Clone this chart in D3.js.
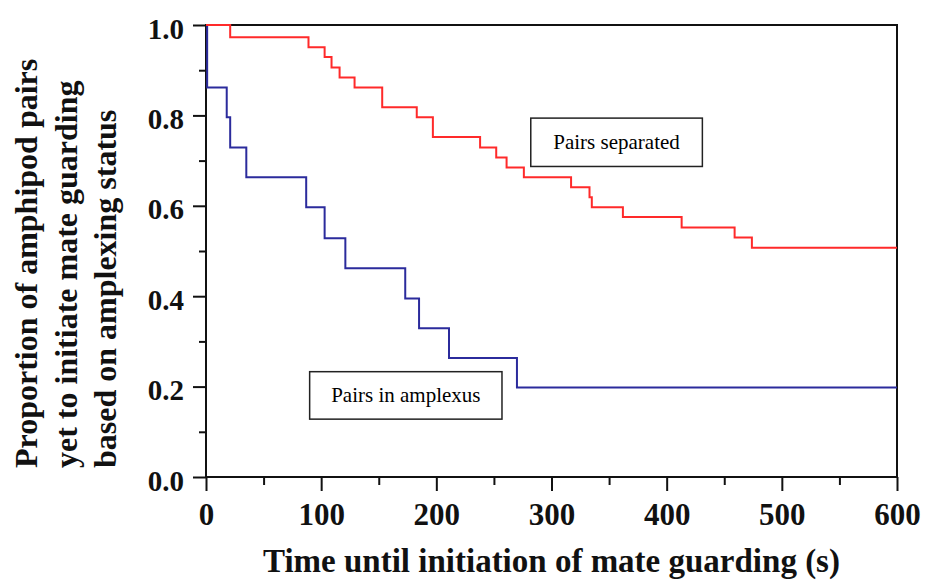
<!DOCTYPE html>
<html>
<head>
<meta charset="utf-8">
<script src="https://cdn.jsdelivr.net/npm/d3@7"></script>
<style>
  body { margin: 0; background: #fff; }
  svg { display: block; }
  text { font-family: "Liberation Serif", "Times New Roman", serif; }
</style>
</head>
<body>
<div class="graph"></div>
<script>
/*---------- DATA ----------*/

// pairs separated: step times (s) and proportion left after each step
const sepTimes = [21, 89, 103, 109, 116, 129, 153, 183, 197, 238, 252, 261, 276, 317, 333, 335, 362, 413, 459, 474];
const sepProps = [0.973, 0.951, 0.929, 0.906, 0.884, 0.862, 0.818, 0.796, 0.752, 0.729, 0.707, 0.685, 0.663, 0.641, 0.619, 0.597, 0.575, 0.552, 0.530, 0.507];

// pairs in amplexus
const ampTimes = [1, 18, 21, 35, 87, 103, 121, 173, 185, 211, 270];
const ampProps = [0.862, 0.796, 0.729, 0.663, 0.597, 0.528, 0.462, 0.395, 0.329, 0.263, 0.198];

const xTicks = [0, 100, 200, 300, 400, 500, 600];
const xMinor = [50, 150, 250, 350, 450, 550];
const yTicks = [0, 0.2, 0.4, 0.6, 0.8, 1.0];
const yMinor = [0.1, 0.3, 0.5, 0.7, 0.9];

const yTitle = ["Proportion of amphipod pairs", "yet to initiate mate guarding", "based on amplexing status"];
const xTitle = "Time until initiation of mate guarding (s)";

// legend boxes, corners given in data units [t0, t1, p0, p1]
const labels = [
    {text: "Pairs separated", box: [282, 431, 0.794, 0.687]},
    {text: "Pairs in amplexus", box: [90, 257, 0.233, 0.128]}
];

/*---------- D3 STUFF ----------*/

const SIZE = {X: 927, Y: 580};
const MARGIN = {TOP: 25, BOTTOM: 103, LEFT: 206, RIGHT: 30};
const DIM = {WIDTH: SIZE.X - MARGIN.LEFT - MARGIN.RIGHT,
            HEIGHT: SIZE.Y - MARGIN.TOP - MARGIN.BOTTOM};

const svg = d3.select(".graph").append("svg")
    .attr("width", SIZE.X)
    .attr("height", SIZE.Y);

const graph = svg.append("g")
    .attr("transform", `translate(${MARGIN.LEFT}, ${MARGIN.TOP})`);

const x = d3.scaleLinear().domain([0, 600]).range([0, DIM.WIDTH]);
const y = d3.scaleLinear().domain([0, 1]).range([DIM.HEIGHT, 0]);

//minor ticks first so major ones draw on top
graph.append("g")
    .attr("transform", `translate(0, ${DIM.HEIGHT})`)
    .call(d3.axisBottom(x).tickValues(xMinor).tickSize(8).tickFormat(""))
    .call(g => g.select(".domain").remove())
    .selectAll("line").attr("stroke", "#111").attr("stroke-width", 2);

graph.append("g")
    .call(d3.axisLeft(y).tickValues(yMinor).tickSize(7).tickFormat(""))
    .call(g => g.select(".domain").remove())
    .selectAll("line").attr("stroke", "#111").attr("stroke-width", 2);

const xAxis = graph.append("g")
    .attr("transform", `translate(0, ${DIM.HEIGHT})`)
    .call(d3.axisBottom(x).tickValues(xTicks).tickSize(14).tickFormat(d3.format("d")))
    .call(g => g.select(".domain").remove());
xAxis.selectAll("line").attr("stroke", "#111").attr("stroke-width", 2);
xAxis.selectAll("text")
    .attr("y", 48).attr("dy", 0)
    .attr("fill", "#111")
    .style("font-size", "31px").style("font-weight", "bold");

const yAxis = graph.append("g")
    .call(d3.axisLeft(y).tickValues(yTicks).tickSize(13).tickFormat(d3.format(".1f")))
    .call(g => g.select(".domain").remove());
yAxis.selectAll("line").attr("stroke", "#111").attr("stroke-width", 2);
yAxis.selectAll("text")
    .attr("x", -22).attr("dy", "0.45em")
    .attr("fill", "#111")
    .style("font-size", "29px").style("font-weight", "bold");

//frame
graph.append("rect")
    .attr("x", 0).attr("y", 0)
    .attr("width", DIM.WIDTH).attr("height", DIM.HEIGHT)
    .attr("fill", "none")
    .attr("stroke", "#111")
    .attr("stroke-width", 2);

//survival curves, drawn over the frame
const stepLine = d3.line()
    .x(d => x(d[0]))
    .y(d => y(d[1]))
    .curve(d3.curveStepAfter);

function curve(times, props) {
    let pts = [[0, 1]];
    times.forEach((t, i) => pts.push([t, props[i]]));
    pts.push([600, props[props.length - 1]]);
    return pts;
}

graph.append("path")
    .attr("d", stepLine(curve(ampTimes, ampProps)))
    .attr("fill", "none")
    .attr("stroke", "#2b2b9c")
    .attr("stroke-width", 2);

graph.append("path")
    .attr("d", stepLine(curve(sepTimes, sepProps)))
    .attr("fill", "none")
    .attr("stroke", "#ff2a2a")
    .attr("stroke-width", 2);

//legend boxes
labels.forEach(l => {
    const [t0, t1, p0, p1] = l.box;
    graph.append("rect")
        .attr("x", x(t0)).attr("y", y(p0))
        .attr("width", x(t1) - x(t0)).attr("height", y(p1) - y(p0))
        .attr("fill", "#fff")
        .attr("stroke", "#222")
        .attr("stroke-width", 1.5);
    graph.append("text")
        .attr("x", (x(t0) + x(t1)) / 2)
        .attr("y", (y(p0) + y(p1)) / 2 + 7)
        .attr("text-anchor", "middle")
        .style("font-size", "21px")
        .text(l.text);
});

//axis titles
const yOff = [37, 77, 116];
yTitle.forEach((t, i) => {
    svg.append("text")
        .attr("transform", `translate(${yOff[i]}, 468) rotate(-90)`)
        .attr("text-anchor", "start")
        .style("font-size", "32px").style("font-weight", "bold")
        .attr("fill", "#111")
        .text(t);
});

svg.append("text")
    .attr("x", MARGIN.LEFT + DIM.WIDTH / 2)
    .attr("y", 572)
    .attr("text-anchor", "middle")
    .style("font-size", "33px").style("font-weight", "bold")
    .attr("fill", "#111")
    .text(xTitle);
</script>
</body>
</html>
